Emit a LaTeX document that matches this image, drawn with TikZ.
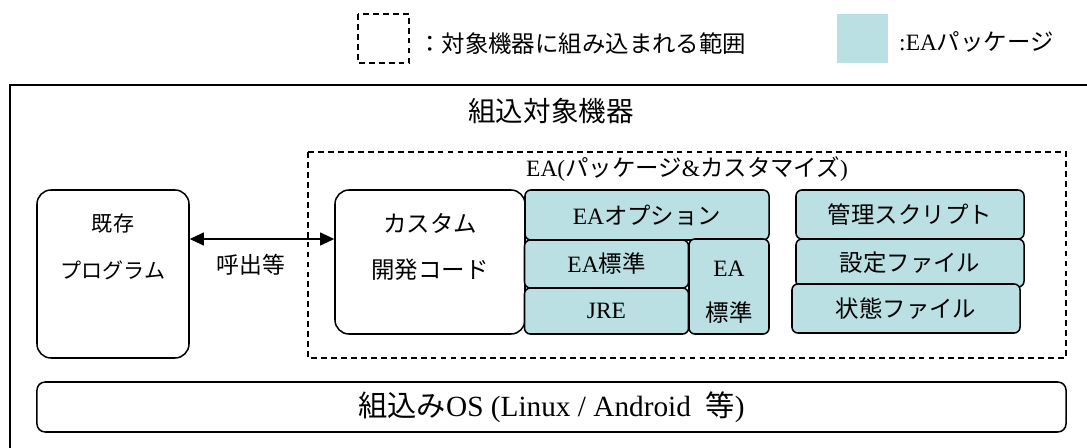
\documentclass[tikz,border=0pt]{standalone}
\usepackage{fontspec}
\setmainfont{Liberation Serif}
\newfontfamily\jpfont{Noto Sans CJK JP}
\newcommand{\jp}[1]{{\jpfont #1}}
\usetikzlibrary{arrows.meta,positioning}
\definecolor{eateal}{RGB}{186,224,227}
\tikzset{
	rbox/.style={draw,line width=1.3pt,rounded corners=12pt,fill=white,inner sep=0pt},
	pkg/.style={draw,line width=1.3pt,rounded corners=5pt,fill=eateal,inner sep=0pt,align=center,font=\fontsize{20}{24}\selectfont},
	txt/.style={inner sep=0pt,align=center,font=\fontsize{20}{24}\selectfont},
	dashbox/.style={line width=1.2pt,dash pattern=on 5pt off 3.5pt},
	tip/.style={line width=1.3pt,{Triangle[length=12pt,width=11pt]}-{Triangle[length=12pt,width=11pt]}}
}
\begin{document}
\begin{tikzpicture}[x=0.03cm,y=-0.03cm]
	\useasboundingbox (0,0) rectangle (1087,448);
	\clip (0,0) rectangle (1087,448);
	% legend
	\draw[dashbox] (358,14) rectangle (409,63); % dashed square
	\node[txt,anchor=west] (lgdash) at (418,44) {\jp{：対象機器に組み込まれる範囲}};
	\fill[eateal] (837,14) rectangle (888,63); % teal square
	\node[txt,anchor=west] (lgpkg) at (899,42) {:EA\jp{パッケージ}};
	% device
	\draw[line width=1.5pt] (10,85) rectangle (1120,480); % outer box
	\node[txt,font=\jpfont\fontsize{23.5}{28}\selectfont] (dev) at (551,111) {組込対象機器};
	\draw[dashbox] (308,152) rectangle (1066,358); % embedded range
	\node[txt] (ea) at (687,169) {EA(\jp{パッケージ}\&\jp{カスタマイズ})};
	% programs
	\node[rbox,minimum width=4.56cm,minimum height=5.04cm] (exist) at (113,274) {};
	\node[txt,font=\jpfont\fontsize{18}{40}\selectfont] (existtxt) at (113,247) {既存\\プログラム};
	\node[rbox,minimum width=5.7cm,minimum height=4.32cm] (code) at (430,262) {};
	\node[txt,font=\jpfont\fontsize{20}{40}\selectfont] (codetxt) at (430,247) {カスタム\\開発コード};
	\coordinate (call) at (0,239);
	\draw[tip] (exist.east |- call) -- (code.west |- call);
	\node[txt,font=\jpfont\fontsize{19.5}{24}\selectfont] (calltxt) at (251,265) {呼出等};
	% package
	\node[pkg,minimum width=7.32cm,minimum height=1.5cm] (opt) at (647,215) {EA\jp{オプション}};
	\node[pkg,minimum width=4.92cm,minimum height=1.44cm] (std) at (606.5,264) {EA\jp{標準}};
	\node[pkg,minimum width=4.92cm,minimum height=1.38cm] (jre) at (606.5,311) {JRE};
	\node[pkg,minimum width=2.4cm,minimum height=2.85cm] (stdb) at (729,286.5) {};
	\node[txt,font=\fontsize{20}{38}\selectfont] (stdbtxt) at (729,292) {EA\\\jp{標準}};
	\node[pkg,minimum width=6.84cm,minimum height=1.47cm] (mgmt) at (910,214.5) {\jp{管理スクリプト}};
	\node[pkg,minimum width=6.84cm,minimum height=1.44cm] (conf) at (910,263) {\jp{設定ファイル}};
	\node[pkg,minimum width=6.84cm,minimum height=1.47cm] (stat) at (906,308.5) {\jp{状態ファイル}};
	% os
	\node[rbox,rounded corners=7pt,minimum width=30.87cm,minimum height=1.5cm,font=\fontsize{25}{30}\selectfont] (os) at (551.5,407) {\jp{組込み}OS (Linux / Android\ \ \jp{等})};
\end{tikzpicture}
\end{document}
